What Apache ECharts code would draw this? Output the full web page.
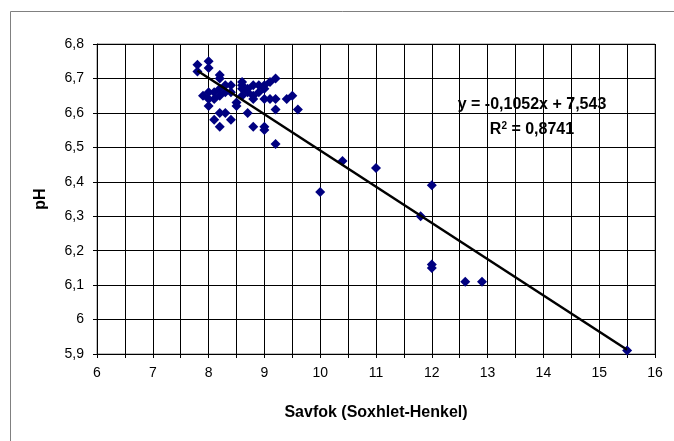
<!DOCTYPE html>
<html>
<head>
<meta charset="utf-8">
<script src="https://cdn.jsdelivr.net/npm/echarts@6/dist/echarts.min.js"></script>
<style>
html,body{margin:0;padding:0;background:#fff;}
#chart{width:674px;height:441px;}
</style>
</head>
<body>
<div id="chart"></div>
<script>
const savfok = [7.8,7.8,8.0,8.0,8.2,8.2,7.9,8.0,8.0,8.0,8.1,8.1,8.2,8.2,8.3,8.3,8.4,8.4,8.5,8.5,8.6,8.6,8.6,8.6,8.7,8.7,8.8,8.8,8.8,8.9,8.9,9.0,9.0,9.0,9.1,9.1,9.2,9.2,9.2,9.4,9.5,9.6,8.2,8.3,8.4,8.1,8.2,8.7,8.8,9.0,9.0,9.2,10.0,10.4,11.0,11.8,12.0,12.0,12.0,12.6,12.9,15.5];
const ph = [6.74,6.72,6.75,6.73,6.71,6.70,6.65,6.66,6.64,6.62,6.64,6.66,6.65,6.67,6.68,6.66,6.68,6.66,6.63,6.62,6.69,6.68,6.67,6.65,6.67,6.66,6.68,6.65,6.64,6.68,6.66,6.68,6.67,6.64,6.69,6.64,6.70,6.64,6.61,6.64,6.65,6.61,6.60,6.60,6.58,6.58,6.56,6.60,6.56,6.56,6.55,6.51,6.37,6.46,6.44,6.30,6.39,6.16,6.15,6.11,6.11,5.91];
const trendSlope = -0.1052;
const trendIntercept = 7.543;
const equationText = 'y = -0,1052x + 7,543';
const r2Text = '0,8741';
const xTitle = 'Savfok (Soxhlet-Henkel)';
const yTitle = 'pH';

const points = savfok.map((x, i) => [x, ph[i]]);
const xMin = Math.min(...savfok), xMax = Math.max(...savfok);
const trend = [[xMin, trendIntercept + trendSlope * xMin], [xMax, trendIntercept + trendSlope * xMax]];

const fmt = v => String(Number(v.toFixed(1))).replace('.', ',');

const chart = echarts.init(document.getElementById('chart'));
chart.setOption({
  animation: false,
  backgroundColor: '#fff',
  grid: {left: 97, right: 19, top: 44, bottom: 87, show: true, borderColor: '#808080', borderWidth: 1},
  xAxis: {
    type: 'value', min: 6, max: 16, interval: 0.5,
    name: xTitle, nameLocation: 'middle', nameGap: 51,
    nameTextStyle: {fontFamily: 'Liberation Sans', fontWeight: 'bold', fontSize: 16, color: '#000'},
    axisLine: {show: true, lineStyle: {color: '#000', width: 1}},
    axisTick: {show: true, length: 4, lineStyle: {color: '#000'}},
    axisLabel: {margin: 12, fontFamily: 'Liberation Sans', fontSize: 14, color: '#000',
      formatter: v => Math.abs(v - Math.round(v)) < 1e-6 ? fmt(v) : ''},
    splitLine: {show: true, lineStyle: {color: '#000', width: 1}}
  },
  yAxis: {
    type: 'value', min: 5.9, max: 6.8, interval: 0.1,
    name: yTitle, nameLocation: 'middle', nameGap: 48, nameRotate: 90,
    nameTextStyle: {fontFamily: 'Liberation Sans', fontWeight: 'bold', fontSize: 16, color: '#000'},
    axisLine: {show: true, lineStyle: {color: '#000', width: 1}},
    axisTick: {show: true, length: 4, lineStyle: {color: '#000'}},
    axisLabel: {margin: 13, fontFamily: 'Liberation Sans', fontSize: 14, color: '#000', formatter: fmt},
    splitLine: {show: true, lineStyle: {color: '#000', width: 1}}
  },
  series: [
    {type: 'scatter', data: points, symbol: 'diamond', symbolSize: 10,
     itemStyle: {color: '#000080', opacity: 1}, z: 3},
    {type: 'line', data: trend, symbol: 'none', lineStyle: {color: '#000', width: 2.5}, z: 4, silent: true}
  ],
  graphic: [
    {type: 'rect', shape: {x: 10.5, y: 11.5, width: 700, height: 500}, style: {fill: 'none', stroke: '#808080', lineWidth: 1}, silent: true, z: -1},
    {type: 'text', x: 532, y: 105, style: {text: equationText, fontFamily: 'Liberation Sans', fontWeight: 'bold', fontSize: 16, fill: '#000', align: 'center', verticalAlign: 'middle'}, z: 10},
    {type: 'text', x: 532, y: 130, style: {
      text: '{r|R}{s|2}{r| = ' + r2Text + '}',
      align: 'center', verticalAlign: 'middle',
      rich: {
        r: {fontFamily: 'Liberation Sans', fontWeight: 'bold', fontSize: 16, fill: '#000', color: '#000'},
        s: {fontFamily: 'Liberation Sans', fontWeight: 'bold', fontSize: 10, fill: '#000', color: '#000', verticalAlign: 'top', padding: [0,0,8,0]}
      }}, z: 10}
  ]
});
</script>
</body>
</html>
